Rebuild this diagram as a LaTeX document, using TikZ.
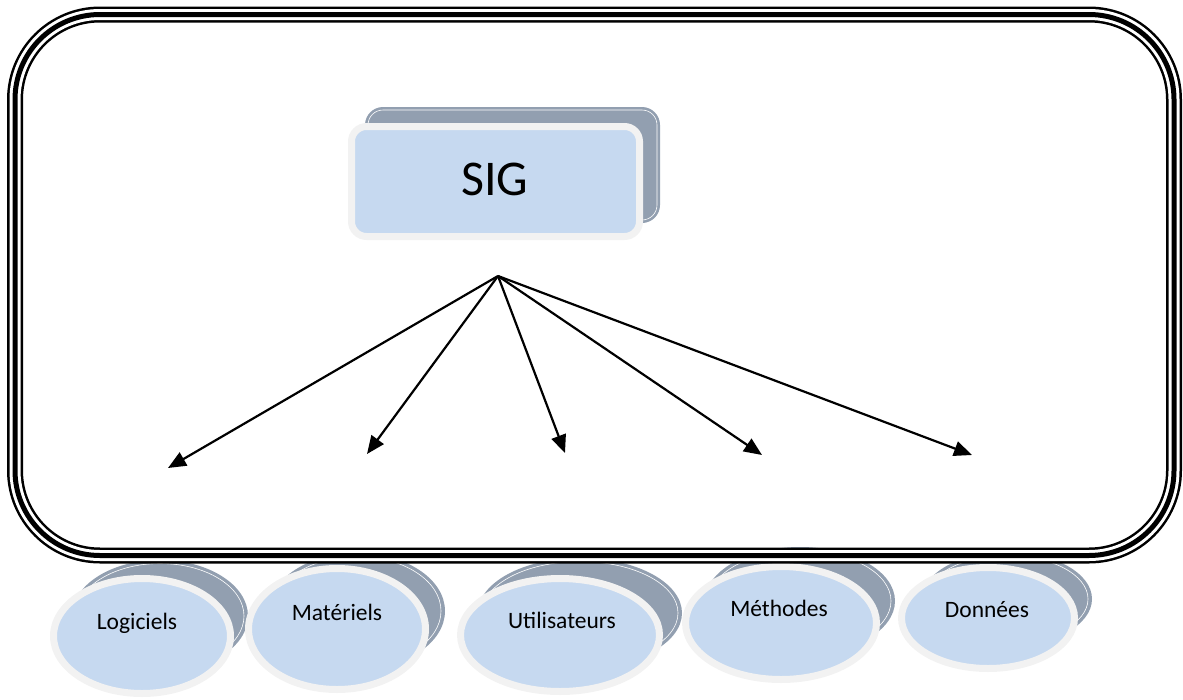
\documentclass[tikz,border=0pt]{standalone}
\usepackage{fontspec}
\setmainfont{Carlito}
\usetikzlibrary{shapes.geometric,arrows.meta}
\definecolor{backgray}{HTML}{929FB0}
\definecolor{fillblue}{HTML}{C6D9F0}
\definecolor{rimgray}{HTML}{F2F2F2}
\begin{document}
\begin{tikzpicture}[x=1pt,y=-1pt,
  back/.style={ellipse, fill=backgray, draw=none, inner sep=0pt},
  backline/.style={ellipse, draw=white, line width=0.6pt, inner sep=0pt},
  front/.style={ellipse, fill=fillblue, draw=rimgray, line width=7pt, inner sep=0pt},
  lbl/.style={font=\fontsize{23.5}{28}\selectfont, inner sep=0pt, anchor=base},
  link/.style={line width=2.2pt, -{Triangle[length=18pt,width=15pt]}}]
\useasboundingbox (0,0) rectangle (1183,699);

% SIG box
\draw[fill=backgray, draw=none, rounded corners=18pt] (365,107) rectangle (660,223);
\draw[draw=white, line width=0.6pt, rounded corners=15pt] (368,110) rectangle (657,220);
\draw[fill=fillblue, draw=rimgray, line width=7pt, rounded corners=15pt] (351.5,126.5) rectangle (639.5,236.5);
\node[font=\fontsize{50}{60}\selectfont, inner sep=0pt, anchor=base] (sig) at (495,195) {SIG};

% ellipses
\node[back, minimum width=176pt, minimum height=112pt] (logb) at (160,616) {};
\node[backline, minimum width=168pt, minimum height=105pt] (logl) at (160,616) {};
\node[front, minimum width=177pt, minimum height=115pt] (logf) at (142,636) {};
\node[lbl] (logt) at (137,629) {Logiciels};

\node[back, minimum width=176pt, minimum height=116pt] (matb) at (357,611) {};
\node[backline, minimum width=168pt, minimum height=109pt] (matl) at (357,611) {};
\node[front, minimum width=177pt, minimum height=121pt] (matf) at (337,629) {};
\node[lbl] (matt) at (337,620) {Matériels};

\node[back, minimum width=204pt, minimum height=110pt] (utib) at (580,613) {};
\node[backline, minimum width=196pt, minimum height=103pt] (util) at (580,613) {};
\node[front, minimum width=199pt, minimum height=113pt] (utif) at (560,635) {};
\node[lbl] (utit) at (562,628) {Utilisateurs};

\node[back, minimum width=190pt, minimum height=108pt] (metb) at (800,601) {};
\node[backline, minimum width=182pt, minimum height=101pt] (metl) at (800,601) {};
\node[front, minimum width=191pt, minimum height=113pt] (metf) at (781,623) {};
\node[lbl] (mett) at (779,616) {Méthodes};

\node[back, minimum width=170pt, minimum height=94pt] (donb) at (1007,599) {};
\node[backline, minimum width=162pt, minimum height=87pt] (donl) at (1007,599) {};
\node[front, minimum width=173pt, minimum height=101pt] (donf) at (988,618) {};
\node[lbl] (dont) at (987,617) {Données};

% frame (triple line)
\draw[black, line width=16pt, rounded corners=85pt] (15,14.5) rectangle (1174,555.5);
\draw[white, line width=11pt, rounded corners=85pt] (15,14.5) rectangle (1174,555.5);
\draw[black, line width=5pt, rounded corners=85pt] (15,14.5) rectangle (1174,555.5);

% arrows
\coordinate (hub) at (498,276);
\coordinate (e1) at (168,468);
\coordinate (e2) at (367,454);
\coordinate (e3) at (565,453);
\coordinate (e4) at (762,455);
\coordinate (e5) at (972,455);
\foreach \e in {e1,e2,e3,e4,e5} \draw[link] (hub) -- (\e);
\end{tikzpicture}
\end{document}
